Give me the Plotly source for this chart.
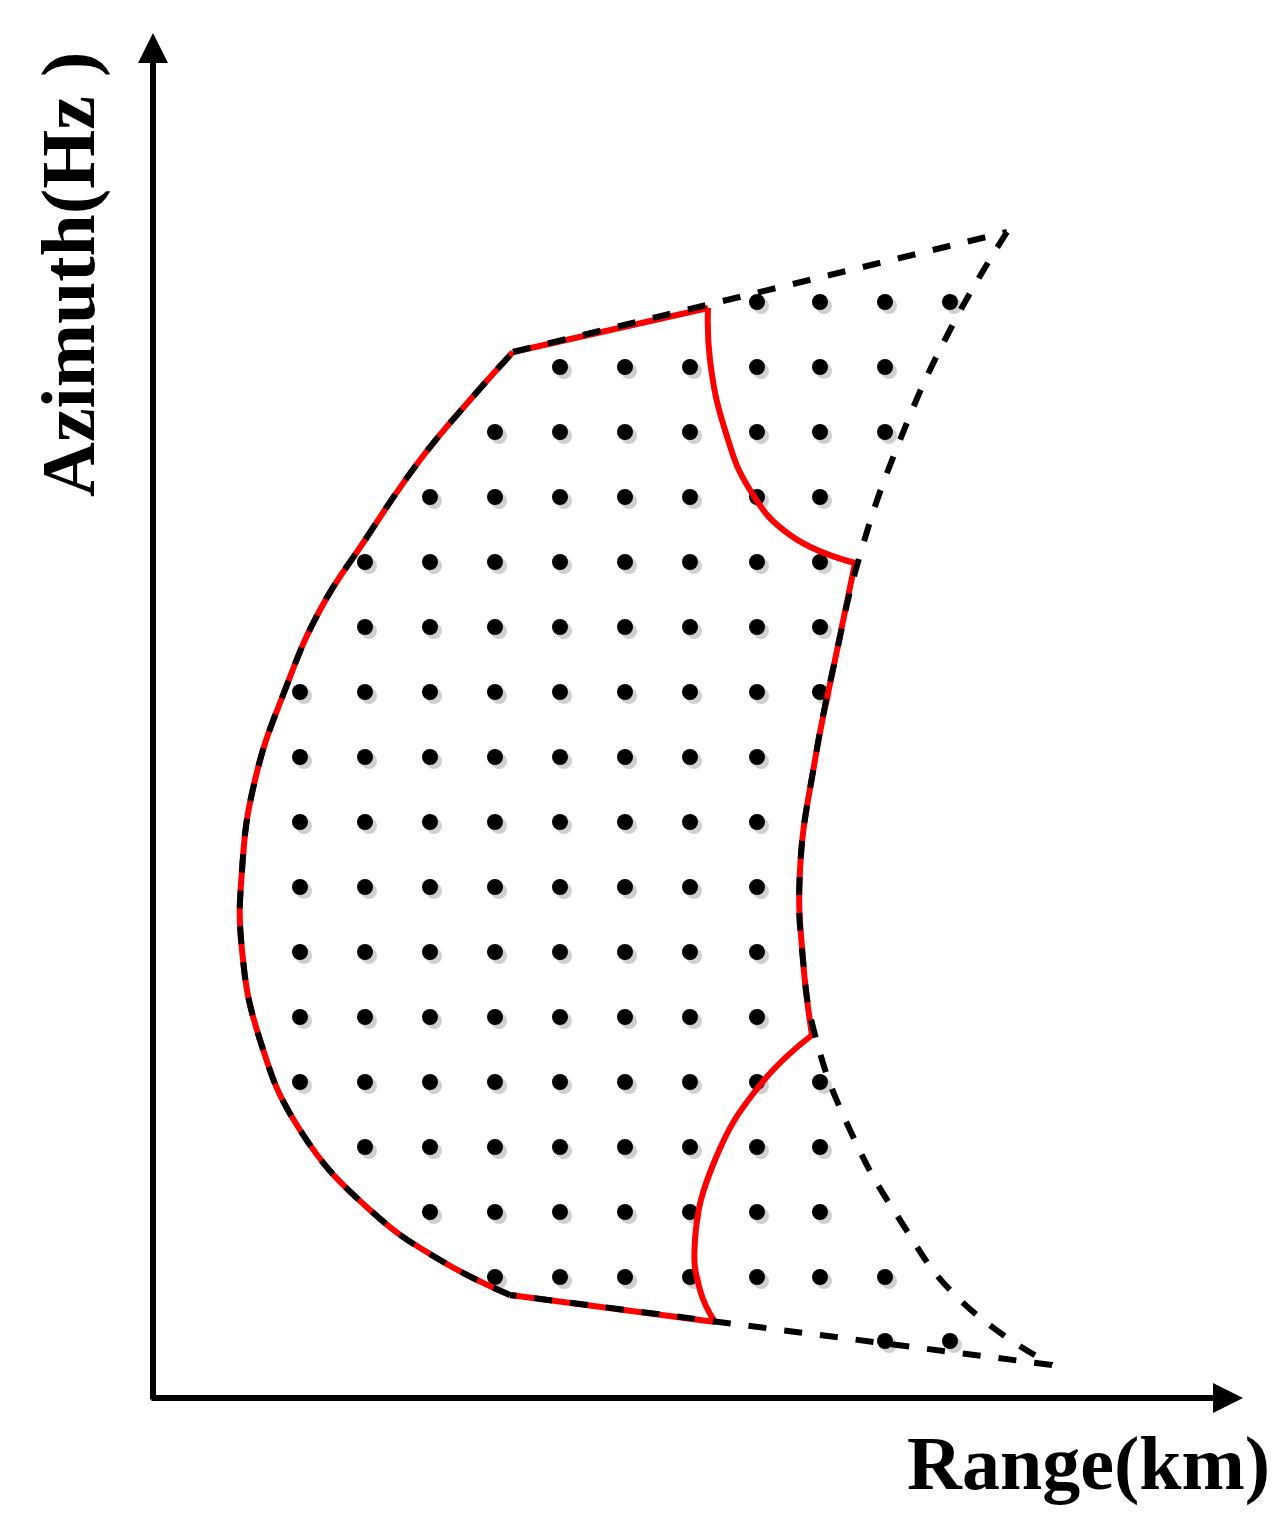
import plotly.graph_objects as go

# grid of sample points (pixel-like schematic coordinates)
dot_rows = {
    302: [757, 820, 885, 950],
    367: [560, 625, 690, 757, 820, 885],
    432: [495, 560, 625, 690, 757, 820, 885],
    497: [430, 495, 560, 625, 690, 757, 820],
    562: [365, 430, 495, 560, 625, 690, 757, 820],
    627: [365, 430, 495, 560, 625, 690, 757, 820],
    692: [300, 365, 430, 495, 560, 625, 690, 757, 820],
    757: [300, 365, 430, 495, 560, 625, 690, 757],
    822: [300, 365, 430, 495, 560, 625, 690, 757],
    887: [300, 365, 430, 495, 560, 625, 690, 757],
    952: [300, 365, 430, 495, 560, 625, 690, 757],
    1017: [300, 365, 430, 495, 560, 625, 690, 757],
    1082: [300, 365, 430, 495, 560, 625, 690, 757, 820],
    1147: [365, 430, 495, 560, 625, 690, 757, 820],
    1212: [430, 495, 560, 625, 690, 757, 820],
    1277: [495, 560, 625, 690, 757, 820, 885],
    1341: [885, 950],
}
dot_x = [x for y, xs in dot_rows.items() for x in xs]
dot_y = [y for y, xs in dot_rows.items() for x in xs]

# outer (dashed) boundary
outer_x = [513, 1007, 950, 900, 860, 835, 815, 800, 803, 815, 850, 900, 960, 1052,
           510, 440, 370, 300, 260, 242, 242, 255, 285, 320, 365, 420, 470, 513]
outer_y = [352, 232, 330, 440, 555, 660, 760, 870, 960, 1035, 1130, 1220, 1300, 1365,
           1295, 1260, 1210, 1130, 1040, 950, 870, 780, 690, 610, 540, 460, 400, 352]

# inner (red) region
red_x = [708, 710, 725, 750, 790, 855, 835, 815, 800, 803, 812,
         760, 715, 695, 700, 715, 510, 440, 370, 300, 260, 242, 242, 255, 285, 320, 365, 420, 470, 513, 708]
red_y = [308, 360, 430, 490, 535, 563, 660, 760, 870, 960, 1035,
         1085, 1160, 1240, 1290, 1322, 1295, 1260, 1210, 1130, 1040, 950, 870, 780, 690, 610, 540, 460, 400, 352, 308]

SM = 1.3
fig = go.Figure()
fig.add_trace(go.Scatter(x=[x + 4 for x in dot_x], y=[y + 4 for y in dot_y], mode="markers",
                         marker=dict(size=16, color="#d0d0d0"), hoverinfo="skip"))
fig.add_trace(go.Scatter(x=dot_x, y=dot_y, mode="markers",
                         marker=dict(size=16, color="black"), hoverinfo="skip"))
red_parts = [(0, 6, True), (5, 11, True), (10, 16, True), (15, 17, False), (16, 30, True), (29, 31, False)]
for a, b, smooth in red_parts:
    fig.add_trace(go.Scatter(x=red_x[a:b], y=red_y[a:b], mode="lines",
                             line=dict(color="red", width=6,
                                       shape="spline" if smooth else "linear", smoothing=SM)))
outer_parts = [(0, 2, False), (1, 14, True), (13, 15, False), (14, 28, True)]
for a, b, smooth in outer_parts:
    fig.add_trace(go.Scatter(x=outer_x[a:b], y=outer_y[a:b], mode="lines",
                             line=dict(color="black", width=6, dash="dash",
                                       shape="spline" if smooth else "linear", smoothing=SM)))

# axes arrows
fig.add_annotation(x=153, y=33, ax=153, ay=1401, xref="x", yref="y", axref="x", ayref="y",
                   showarrow=True, arrowhead=2, arrowsize=1, arrowwidth=6, arrowcolor="black", text="")
fig.add_annotation(x=1243, y=1398, ax=150, ay=1398, xref="x", yref="y", axref="x", ayref="y",
                   showarrow=True, arrowhead=2, arrowsize=1, arrowwidth=6, arrowcolor="black", text="")
fig.add_annotation(x=68, y=275, text="<b>Azimuth(Hz )</b>", textangle=-90, showarrow=False,
                   font=dict(family="Liberation Serif", size=76, color="black"))
fig.add_annotation(x=1088, y=1463, text="<b>Range(km)</b>", showarrow=False,
                   font=dict(family="Liberation Serif", size=76, color="black"))

fig.update_layout(width=1288, height=1528, margin=dict(l=0, r=0, t=0, b=0),
                  plot_bgcolor="white", paper_bgcolor="white", showlegend=False)
fig.update_xaxes(range=[8, 1296], visible=False)
fig.update_yaxes(range=[1536, 8], visible=False)
fig.write_html("out.html")
